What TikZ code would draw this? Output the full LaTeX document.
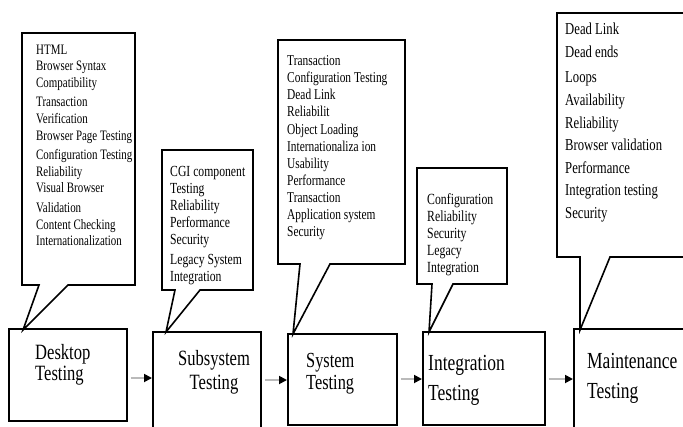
\documentclass[tikz,border=0pt]{standalone}
\usepackage{fontspec}
\setmainfont[FakeStretch=0.76]{Liberation Serif}
\usetikzlibrary{arrows.meta}
\tikzset{
  stagebox/.style={draw, line width=1.8pt, inner sep=0pt, anchor=north west},
  bubble/.style={draw, line width=1.6pt, line join=miter, fill=white},
  bubtext/.style={align=left, anchor=north west, inner sep=0pt},
  stagetext/.style={align=left, anchor=west, inner sep=0pt},
  flow/.style={draw=black!27, line width=1.8pt, shorten <=3pt,
    -{Triangle[length=8pt,width=8pt,color=black]}},
}
\begin{document}
\begin{tikzpicture}[x=1pt,y=-1pt]
\useasboundingbox (0,0) rectangle (683,426);
\fill[white] (0,0) rectangle (683,426);
\clip (0,0) rectangle (683,426);

% stage boxes
\node[stagebox, minimum width=118pt, minimum height=92pt]  (b1) at (8,328) {};
\node[stagebox, minimum width=108pt, minimum height=100pt] (b2) at (152,331) {};
\node[stagebox, minimum width=109pt, minimum height=91pt]  (b3) at (287,333) {};
\node[stagebox, minimum width=122pt, minimum height=93pt]  (b4) at (422,331) {};
\node[stagebox, minimum width=120pt, minimum height=102pt] (b5) at (573,328) {};

% tail tips
\coordinate (p1) at (23,330);
\coordinate (p2) at (166,332);
\coordinate (p3) at (293,334);
\coordinate (p4) at (429,332);
\coordinate (p5) at (580,330);

% callouts
\draw[bubble] (39,285) -- (22,285) -- (22,33) -- (135,33) -- (135,285) -- (68,285) -- (p1) -- cycle;
\draw[bubble] (175,290) -- (162,290) -- (162,150) -- (253,150) -- (253,290) -- (200,290) -- (p2) -- cycle;
\draw[bubble] (300,264) -- (278,264) -- (278,40) -- (405,40) -- (405,264) -- (330,264) -- (p3) -- cycle;
\draw[bubble] (432,284) -- (417,284) -- (417,168) -- (507,168) -- (507,284) -- (453,284) -- (p4) -- cycle;
\draw[bubble] (580,257) -- (557,257) -- (557,13) -- (690,13) -- (690,257) -- (610,257) -- (p5) -- cycle;

% callout texts
\node[bubtext, font=\fontsize{14.4}{16.6}\selectfont] (c1) at (36,44.5)
  {HTML\\Browser Syntax\\Compatibility\\[3pt]Transaction\\Verification\\Browser Page Testing\\[3pt]Configuration Testing\\Reliability\\Visual Browser\\[3pt]Validation\\Content Checking\\Internationalization};
\node[bubtext, font=\fontsize{15.4}{17}\selectfont] (c2) at (170,166.5)
  {CGI component\\Testing\\Reliability\\Performance\\Security\\[3pt]Legacy System\\Integration};
\node[bubtext, font=\fontsize{15}{17.1}\selectfont] (c3) at (287,55.5)
  {Transaction\\Configuration Testing\\Dead Link\\Reliabilit\\Object Loading\\Internationaliza ion\\Usability\\Performance\\Transaction\\Application system\\Security};
\node[bubtext, font=\fontsize{15.5}{17}\selectfont] (c4) at (427,193.5)
  {Configuration\\Reliability\\Security\\Legacy\\Integration};
\node[bubtext, font=\fontsize{16.7}{22.6}\selectfont] (c5) at (565,23)
  {Dead Link\\Dead ends\\[3pt]Loops\\Availability\\Reliability\\Browser validation\\Performance\\Integration testing\\Security};

% stage texts
\node[stagetext, font=\fontsize{21.8}{20.5}\selectfont] (t1) at (35,365) {Desktop\\Testing};
\node[align=center, inner sep=0pt, font=\fontsize{21.8}{24}\selectfont] (t2) at (214,372) {Subsystem\\Testing};
\node[stagetext, font=\fontsize{21.5}{22}\selectfont] (t3) at (306,374) {System\\Testing};
\node[stagetext, font=\fontsize{23}{30}\selectfont] (t4) at (428,380) {Integration\\Testing};
\node[stagetext, font=\fontsize{23}{30}\selectfont] (t5) at (587,378) {Maintenance\\Testing};

% flow arrows
\draw[flow] (b1.east |- 0,378) -- (b2.west |- 0,378);
\draw[flow] (b2.east |- 0,380) -- (b3.west |- 0,380);
\draw[flow] (b3.east |- 0,379) -- (b4.west |- 0,379);
\draw[flow] (b4.east |- 0,379) -- (b5.west |- 0,379);
\end{tikzpicture}
\end{document}
